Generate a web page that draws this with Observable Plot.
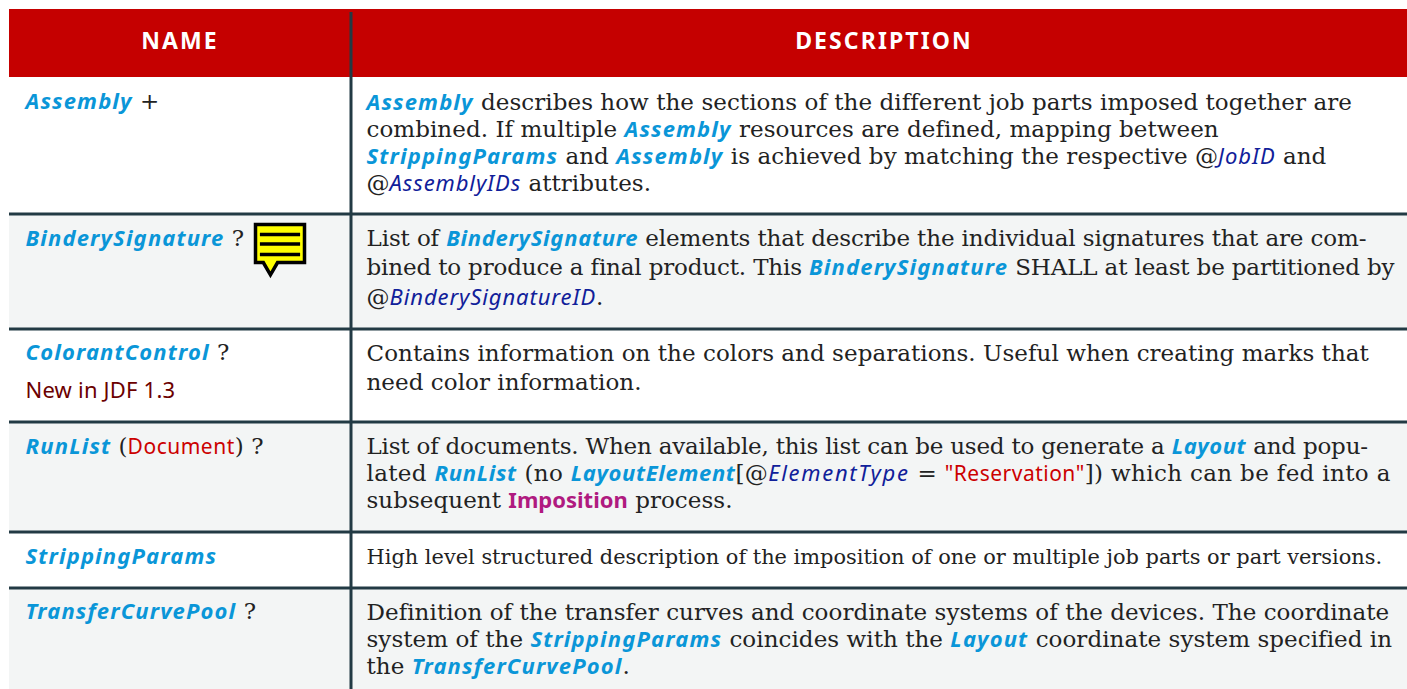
<!DOCTYPE html>
<html><head><meta charset="utf-8">
<script src="https://cdn.jsdelivr.net/npm/d3@7"></script>
<script src="https://cdn.jsdelivr.net/npm/@observablehq/plot@0.6"></script>
<style>
html,body{margin:0;padding:0;background:#fff;overflow:hidden}
svg{display:block}
</style></head><body>
<script>
const headers = ["NAME","DESCRIPTION"];
const headerCentres = [179.5,883.5];
const rowEdges = [77,213.5,328.5,421.5,531.5,587.5,689];
const nameBaselines = [108,245,359,453,563,618];
const firstBaselines = [109,245,360,453,563,619];
const leadings = [27,29.5,29,27,27,27];

const nameCells = [
 ["{n|Assembly} +"],
 ["{n|BinderySignature} ?"],
 ["{n|ColorantControl} ?"],
 ["{n|RunList} ({d|Document}) ?"],
 ["{n|StrippingParams}"],
 ["{n|TransferCurvePool} ?"]
];
const newInCell = {row:2, text:"New in JDF 1.3"};
const descCells = [
 ["{n|Assembly} describes how the sections of the different job parts imposed together are",
  "combined. If multiple {n|Assembly} resources are defined, mapping between",
  "{n|StrippingParams} and {n|Assembly} is achieved by matching the respective @{a|JobID} and",
  "@{a|AssemblyIDs} attributes."],
 ["List of {n|BinderySignature} elements that describe the individual signatures that are com-",
  "bined to produce a final product. This {n|BinderySignature} SHALL at least be partitioned by",
  "@{a|BinderySignatureID}."],
 ["Contains information on the colors and separations. Useful when creating marks that",
  "need color information."],
 ["List of documents. When available, this list can be used to generate a {n|Layout} and popu-",
  "lated {n|RunList} (no {n|LayoutElement}[@{a|ElementType} = {d|\"Reservation\"}]) which can be fed into a",
  "subsequent {i|Imposition} process."],
 ["{t|High level structured description of the imposition of one or multiple job parts or part versions.}"],
 ["Definition of the transfer curves and coordinate systems of the devices. The coordinate",
  "system of the {n|StrippingParams} coincides with the {n|Layout} coordinate system specified in",
  "the {n|TransferCurvePool}."]
];
// Lines the reference sets tighter or looser than the rest: extra letter-spacing by "row:line".
const lineFit = {
 "1:0":{body:-.17,n:-.44},
 "1:1":{body:-.2},
 "3:0":{body:-.25,n:-.6},
 "3:1":{body:.3,n:-.5,a:.8}
};

const W=1407,H=689,left=9,split=350.5,nameX=25,descX=366;
const styles = {
 body:{fontFamily:"'DejaVu Serif'",fontSize:23,fontWeight:400,fontStyle:"normal",fill:"#222"},
 t:{fontFamily:"'DejaVu Serif'",fontSize:20.9,fontWeight:400,fontStyle:"normal",fill:"#222"},
 n:{fontFamily:"'Noto Sans'",fontSize:22,fontWeight:700,fontStyle:"italic",fill:"#0a96d8"},
 a:{fontFamily:"'Noto Sans'",fontSize:22,fontWeight:400,fontStyle:"italic",fill:"#10209a"},
 d:{fontFamily:"'Noto Sans'",fontSize:21,fontWeight:400,fontStyle:"normal",fill:"#cc0000"},
 i:{fontFamily:"'Noto Sans'",fontSize:22,fontWeight:700,fontStyle:"normal",fill:"#b01a80"},
 old:{fontFamily:"'Noto Sans'",fontSize:22,fontWeight:400,fontStyle:"normal",fill:"#6b0000"}
};
const spacing = {body:0.05,t:0,n:1.15,a:0.9,d:0.5,i:0,old:0.2};

// Text measuring in real SVG so run positions agree with what is drawn.
const meas=d3.select(document.body).append("svg").attr("width",10).attr("height",10).style("position","absolute").style("visibility","hidden");
const probe=meas.append("text").style("white-space","pre");
function width(t,k,sp){const s=styles[k];
 probe.attr("font-family",s.fontFamily).attr("font-size",s.fontSize).attr("font-weight",s.fontWeight)
  .attr("font-style",s.fontStyle).style("letter-spacing",sp+"px").text(t);
 return probe.node().getComputedTextLength();}
const runs=[];
function layout(line,x0,y,fit={}){let x=x0;
 const re=/\{(\w)\|([^}]*)\}|[^{]+/g;let m;
 while((m=re.exec(line))){const k=m[1]||"body",t=m[1]?m[2]:m[0];
  const sp=+(spacing[k]+(fit[k]||0)).toFixed(3);
  runs.push({k,t,x,y,sp});x+=width(t,k,sp);}}
nameCells.forEach((c,i)=>c.forEach(l=>layout(l,nameX,nameBaselines[i])));
descCells.forEach((c,i)=>c.forEach((l,j)=>layout(l,descX,firstBaselines[i]+j*leadings[i],lineFit[i+":"+j])));
runs.push({k:"old",t:newInCell.text,x:nameX,y:397,sp:spacing.old});
meas.remove();

const rows=rowEdges.slice(0,-1).map((e,i)=>({y1:e,y2:rowEdges[i+1],i}));
const noteAt=[{x:279.5,y:243}];
const noteSymbol={draw(c,size){const u=Math.sqrt(size/Math.PI);
  const p=(a,b)=>[a*u,b*u];
  c.moveTo(...p(-1,-.78));c.lineTo(...p(1,-.78));c.lineTo(...p(1,.78));c.lineTo(...p(-.1,.78));
  c.lineTo(...p(-.39,1.28));c.lineTo(...p(-.68,.78));c.lineTo(...p(-1,.78));c.closePath();
  [-.37,.02,.45].forEach(b=>{c.moveTo(...p(-.82,b));c.lineTo(...p(.82,b));});
}};
const spaced=px=>(index,scales,values,dims,ctx,next)=>{const g=next(index,scales,values,dims,ctx);g.style.letterSpacing=px+"px";g.style.whiteSpace="pre";return g;};

const runMarks=[...d3.group(runs,r=>r.k,r=>r.sp)].flatMap(([k,bySp])=>[...bySp].map(([sp,list])=>
  Plot.text(list,{x:"x",y:"y",text:"t",textAnchor:"start",lineAnchor:"bottom",render:spaced(sp),...styles[k]})));

const plot=Plot.plot({width:W,height:H,margin:0,
 x:{domain:[0,W],range:[0,W],axis:null},
 y:{domain:[0,H],range:[0,H],axis:null},
 style:{background:"#fff",overflow:"hidden"},
 marks:[
  Plot.rect(rows.filter(r=>r.i%2===1),{x1:left,x2:W,y1:"y1",y2:"y2",fill:"#f3f5f5"}),
  Plot.rect([{}],{x1:left,x2:W,y1:9,y2:rowEdges[0],fill:"#c50000"}),
  Plot.ruleY(rowEdges.slice(1,-1),{x1:left,x2:W,stroke:"#223a44",strokeWidth:3}),
  Plot.ruleX([split],{y1:12,y2:H,stroke:"#223a44",strokeWidth:3}),
  Plot.text(headers,{x:headerCentres,y:[48,48],text:d=>d,textAnchor:"middle",lineAnchor:"bottom",render:spaced(2.1),
    fill:"#fff",fontFamily:"'Noto Sans'",fontSize:23,fontWeight:700}),
  runMarks,
  Plot.dot(noteAt,{x:"x",y:"y",r:24.5,symbol:noteSymbol,fill:"#ffff00",stroke:"#000",strokeWidth:3.5})
 ]});
document.body.appendChild(plot);
</script></body></html>
